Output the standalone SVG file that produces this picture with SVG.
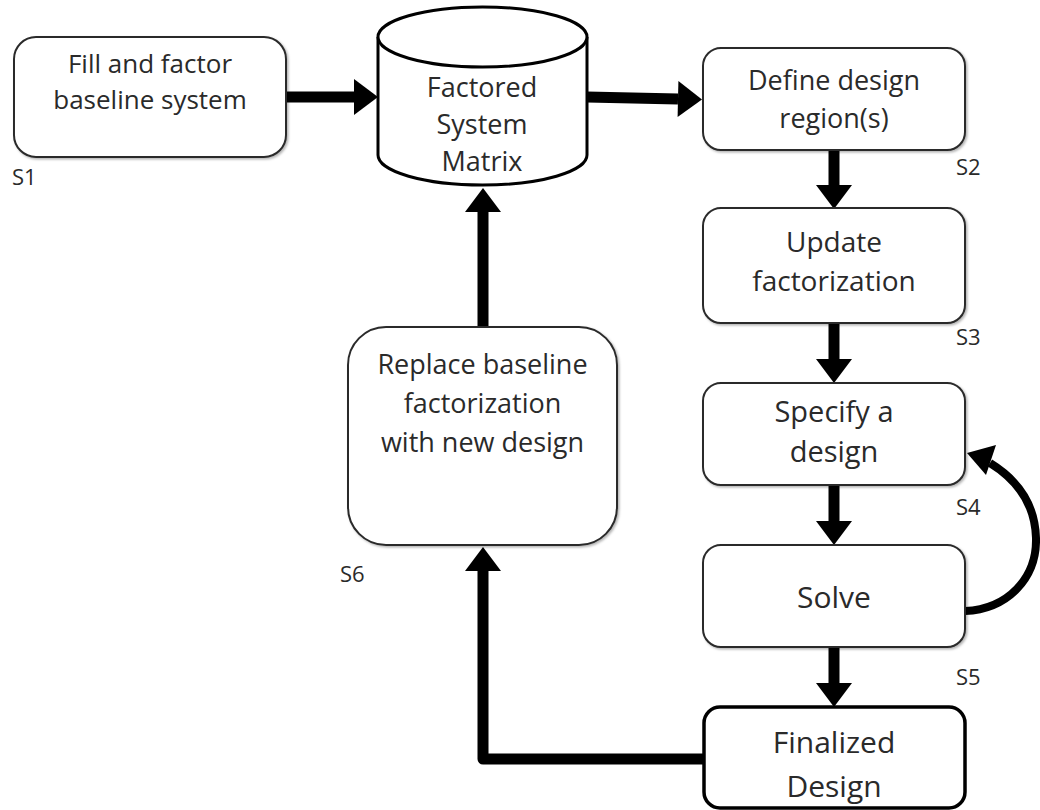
<svg xmlns="http://www.w3.org/2000/svg" width="1040" height="810" viewBox="0 0 1040 810">
  <style>
    .box { fill: #ffffff; stroke: #2b2b2b; stroke-width: 2; filter: url(#shadow); }
    .box-strong { fill: #ffffff; stroke: #000000; stroke-width: 3.5; }
    .txt { font-family: "Open Sans", "Liberation Sans", sans-serif; fill: #2a2a2a; text-anchor: middle; }
    .t26 { font-size: 26px; }
    .t27 { font-size: 27px; }
    .t28 { font-size: 28px; }
    .t29 { font-size: 29px; }
    .t30 { font-size: 30px; }
    .lbl { font-family: "Open Sans", "Liberation Sans", sans-serif; font-size: 22px; fill: #2a2a2a; }
    .flow { stroke: #000000; stroke-width: 11; fill: none; marker-end: url(#head); }
  </style>
  <defs>
    <filter id="shadow" x="-5%" y="-5%" width="112%" height="115%">
      <feDropShadow dx="1.5" dy="1.5" stdDeviation="1" flood-color="#000000" flood-opacity="0.3"/>
    </filter>
    <marker id="head" markerUnits="userSpaceOnUse" markerWidth="25" markerHeight="36" refX="0" refY="18" orient="auto" overflow="visible">
      <path d="M0,0 L24,18 L0,36 Z" fill="#000000"/>
    </marker>
  </defs>

  <!-- connectors -->
  <g id="connectors">
    <line class="flow" x1="286" y1="97" x2="354" y2="97"/>
    <line class="flow" x1="587" y1="97" x2="678" y2="99"/>
    <line class="flow" x1="834" y1="150" x2="834" y2="185"/>
    <line class="flow" x1="834" y1="323" x2="834" y2="359"/>
    <line class="flow" x1="834" y1="485" x2="834" y2="521"/>
    <line class="flow" x1="834" y1="647" x2="834" y2="683"/>
    <path class="flow" d="M704,759 H483 V571" stroke-linejoin="round"/>
    <line class="flow" x1="483" y1="327" x2="483" y2="212"/>
    <!-- loop back from Solve to Specify a design -->
    <path d="M965,611 C1008,609 1037,578 1036,538 C1035,502 1016,479 990,463" fill="none" stroke="#000000" stroke-width="8"/>
    <polygon points="967,453 996,445 986,475" fill="#000000"/>
  </g>

  <g id="s1">
    <rect class="box" x="14" y="37" width="272" height="120" rx="22"/>
    <text class="txt t26" x="150" y="73">Fill and factor<tspan x="150" dy="36">baseline system</tspan></text>
    <text class="lbl" x="12" y="185">S1</text>
  </g>

  <g id="matrix">
    <path d="M378,37 V155 A104.5,30 0 0 0 587,155 V37" fill="#ffffff" stroke="#000000" stroke-width="3"/>
    <ellipse cx="482.5" cy="37" rx="104.5" ry="30" fill="#ffffff" stroke="#000000" stroke-width="3"/>
    <text class="txt t27" x="482" y="97">Factored<tspan x="482" dy="37">System</tspan><tspan x="482" dy="37">Matrix</tspan></text>
  </g>

  <g id="s2">
    <rect class="box" x="703" y="48" width="262" height="102" rx="18"/>
    <text class="txt t27" x="834" y="90">Define design<tspan x="834" dy="38">region(s)</tspan></text>
    <text class="lbl" x="956" y="175">S2</text>
  </g>

  <g id="s3">
    <rect class="box" x="703" y="208" width="262" height="115" rx="18"/>
    <text class="txt t28" x="834" y="252">Update<tspan x="834" dy="39">factorization</tspan></text>
    <text class="lbl" x="956" y="345">S3</text>
  </g>

  <g id="s4">
    <rect class="box" x="703" y="383" width="262" height="102" rx="18"/>
    <text class="txt t29" x="834" y="422">Specify a<tspan x="834" dy="40">design</tspan></text>
    <text class="lbl" x="956" y="515">S4</text>
  </g>

  <g id="s5">
    <rect class="box" x="703" y="545" width="262" height="102" rx="18"/>
    <text class="txt t30" x="834" y="608">Solve</text>
    <text class="lbl" x="956" y="685">S5</text>
  </g>

  <g id="finalized">
    <rect class="box-strong" x="704" y="707" width="261" height="101" rx="16"/>
    <text class="txt t30" x="834" y="753">Finalized<tspan x="834" dy="44">Design</tspan></text>
  </g>

  <g id="s6">
    <rect class="box" x="348" y="327" width="269" height="218" rx="38"/>
    <text class="txt t27" x="482.5" y="374">Replace baseline<tspan x="482.5" dy="39">factorization</tspan><tspan x="482.5" dy="39">with new design</tspan></text>
    <text class="lbl" x="340" y="582">S6</text>
  </g>
</svg>
